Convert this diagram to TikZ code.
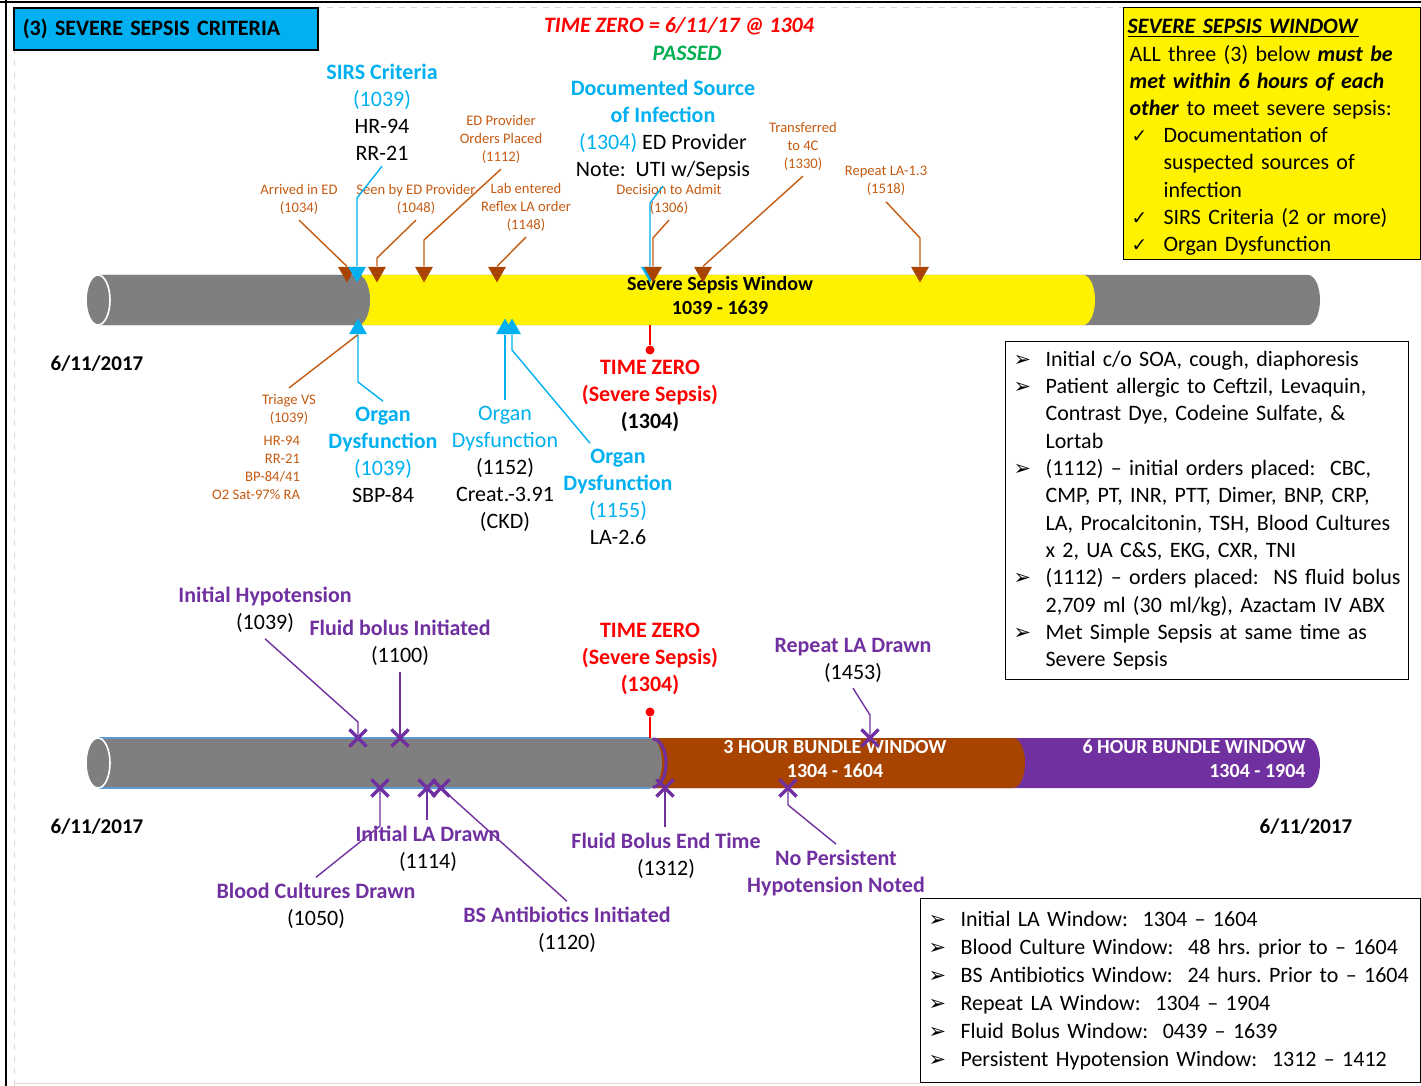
\documentclass[tikz,border=0pt]{standalone}
\usepackage{fontspec}
\setmainfont{Carlito}
\newfontfamily\dingfont{DejaVu Sans}[Scale=0.95]
\newfontfamily\tickfont{DejaVu Sans}[Scale=0.85]
\usetikzlibrary{shapes.geometric,shapes.misc}

\definecolor{sepblue}{HTML}{00B0F0}
\definecolor{sepbrown}{HTML}{A94300}
\definecolor{seporange}{HTML}{C55A11}
\definecolor{seppurple}{HTML}{7030A0}
\definecolor{sepgray}{HTML}{7F7F7F}
\definecolor{sepgreen}{HTML}{00B050}
\definecolor{sepedge}{HTML}{5B9BD5}

\newcommand{\bulmark}{\makebox[18pt][l]{\hspace{2pt}\dingfont ➢}}
\newcommand{\chkmark}{\makebox[18pt][l]{\hspace{2pt}\tickfont ✓}}
\newcommand{\bulgap}{\hspace*{18pt}}

\tikzset{
  txt/.style={font=\fontsize{11}{13.5}\selectfont, align=center, inner sep=0pt, outer sep=3pt},
  note/.style={font=\fontsize{7.3}{9}\selectfont, text=seporange, align=center, inner sep=0pt, outer sep=3pt},
  datelbl/.style={font=\fontsize{10.5}{12}\selectfont\bfseries, inner sep=0pt},
  tubelbl/.style={font=\fontsize{10}{12}\selectfont\bfseries, align=center, inner sep=0pt},
  infobox/.style={draw=black, line width=0.6pt, font=\fontsize{11}{13.6}\selectfont, align=left, anchor=north west, inner xsep=2pt, inner ysep=2pt},
  downtri/.style={regular polygon, regular polygon sides=3, shape border rotate=180, minimum size=10.4pt, inner sep=0pt, fill=#1},
  uptri/.style={regular polygon, regular polygon sides=3, minimum size=10.4pt, inner sep=0pt, fill=#1},
  xmark/.style={cross out, draw=seppurple, line width=1.6pt, minimum size=7pt, inner sep=0pt},
  tzdot/.style={circle, fill=red, minimum size=4.5pt, inner sep=0pt},
  oline/.style={seporange, line width=0.7pt},
  bline/.style={sepblue, line width=0.7pt},
  pline/.style={seppurple, line width=0.7pt}
}

\begin{document}
\frenchspacing
\begin{tikzpicture}[x=0.5pt,y=-0.5pt]
\useasboundingbox (0,0) rectangle (1421,1086);

% Frame
\draw[line width=1.2pt] (6,0) -- (6,1086);
\draw[line width=1.2pt] (0,2) -- (1421,2);
\draw[black!15, dashed] (14,1086) -- (14,7) -- (1421,7);
\draw[black!15] (14,1083) -- (920,1083);

% Upper tube
\fill[sepgray] (98,275) -- (1308,275) arc[start angle=-90, end angle=90, x radius=12, y radius=25] -- (98,325) -- cycle;
\fill[yellow] (362,275) -- (1083,275) arc[start angle=-90, end angle=90, x radius=12, y radius=25] -- (362,325) -- cycle;
\fill[sepgray] (98,275) -- (358,275) arc[start angle=-90, end angle=90, x radius=12, y radius=25] -- (98,325) -- cycle;
\filldraw[fill=sepgray, draw=white, line width=0.8pt] (98,300) ellipse [x radius=12, y radius=25];

% Lower tube
\fill[seppurple] (98,738) -- (1308,738) arc[start angle=-90, end angle=90, x radius=12, y radius=25] -- (98,788) -- cycle;
\fill[sepbrown] (655,738) -- (1013,738) arc[start angle=-90, end angle=90, x radius=12, y radius=25] -- (655,788) -- cycle;
\fill[sepgray] (98,738) -- (650,738) arc[start angle=-90, end angle=90, x radius=12, y radius=25] -- (98,788) -- cycle;
\draw[sepedge, line width=0.6pt] (98,738) -- (650,738) (98,788) -- (650,788);
\draw[seppurple, line width=1.6pt] (653,739) arc[start angle=-90, end angle=90, x radius=13, y radius=24];
\filldraw[fill=sepgray, draw=white, line width=0.8pt] (98,763) ellipse [x radius=12, y radius=25];

% Tube labels
\node[tubelbl] (sswin) at (720,296) {Severe Sepsis Window\\1039 - 1639};
\node[tubelbl, text=white] (win3) at (835,759) {3 HOUR BUNDLE WINDOW\\1304 - 1604};
\node[tubelbl, text=white, align=right, anchor=east] (win6) at (1306,759) {6 HOUR BUNDLE WINDOW\\1304 - 1904};

% Headings
\node[draw=black, line width=0.8pt, fill=sepblue, anchor=north west, minimum width=151.5pt, minimum height=21pt,
  text width=143pt, inner xsep=4.5pt, align=left, font=\fontsize{11}{13.5}\selectfont\bfseries] (title) at (13,7) {(3) SEVERE SEPSIS CRITERIA};
\node[txt, font=\fontsize{11}{13.5}\selectfont\bfseries\itshape, text=red] (tzero) at (679,26) {TIME ZERO = 6/11/17 @ 1304};
\node[txt, font=\fontsize{11}{13.5}\selectfont\bfseries\itshape, text=sepgreen] (passed) at (687,53) {PASSED};

% Dates
\node[datelbl] (date1) at (97,364) {6/11/2017};
\node[datelbl] (date2) at (97,827) {6/11/2017};
\node[datelbl] (date3) at (1306,827) {6/11/2017};

% Labels above the upper tube
\node[txt] (sirs) at (382,112) {\textbf{\textcolor{sepblue}{SIRS Criteria}}\\\textcolor{sepblue}{(1039)}\\HR-94\\RR-21};
\node[txt] (docsrc) at (663,130) {\textbf{\textcolor{sepblue}{Documented Source}}\\\textbf{\textcolor{sepblue}{of Infection}}\\\textcolor{sepblue}{(1304)} ED Provider\\Note:\ \ UTI w/Sepsis};
\node[note] (arrived) at (299,199) {Arrived in ED\\(1034)};
\node[note] (seen) at (416,199) {Seen by ED Provider\\(1048)};
\node[note] (orders) at (501,139) {ED Provider\\Orders Placed\\(1112)};
\node[note] (labent) at (526,207) {Lab entered\\Reflex LA order\\(1148)};
\node[note] (admit) at (669,199) {Decision to Admit\\(1306)};
\node[note] (xfer) at (803,146) {Transferred\\to 4C\\(1330)};
\node[note] (repla) at (886,181) {Repeat LA-1.3\\(1518)};

% Labels below the upper tube
\node[note] (triage) at (289,409) {Triage VS\\(1039)};
\node[note, align=right, anchor=east] (vitals) at (306,468) {HR-94\\RR-21\\BP-84/41\\O2 Sat-97\% RA};
\node[txt] (od1) at (383,455) {\textbf{\textcolor{sepblue}{Organ}}\\\textbf{\textcolor{sepblue}{Dysfunction}}\\\textcolor{sepblue}{(1039)}\\SBP-84};
\node[txt] (od2) at (505,469) {\textcolor{sepblue}{Organ}\\\textcolor{sepblue}{Dysfunction}\\(1152)\\Creat.-3.91\\(CKD)};
\node[txt] (od3) at (618,497) {\textbf{\textcolor{sepblue}{Organ}}\\\textbf{\textcolor{sepblue}{Dysfunction}}\\\textcolor{sepblue}{(1155)}\\LA-2.6};
\node[txt, font=\fontsize{11}{13.5}\selectfont\bfseries] (tz1) at (650,396) {\textcolor{red}{TIME ZERO}\\\textcolor{red}{(Severe Sepsis)}\\(1304)};

% Labels round the lower tube
\node[txt] (hypo) at (265,610) {\textbf{\textcolor{seppurple}{Initial Hypotension}}\\(1039)};
\node[txt] (fbi) at (400,643) {\textbf{\textcolor{seppurple}{Fluid bolus Initiated}}\\(1100)};
\node[txt, font=\fontsize{11}{13.5}\selectfont\bfseries, text=red] (tz2) at (650,659) {TIME ZERO\\(Severe Sepsis)\\(1304)};
\node[txt] (rla) at (853,660) {\textbf{\textcolor{seppurple}{Repeat LA Drawn}}\\(1453)};
\node[txt] (ila) at (428,849) {\textbf{\textcolor{seppurple}{Initial LA Drawn}}\\(1114)};
\node[txt] (bcd) at (316,906) {\textbf{\textcolor{seppurple}{Blood Cultures Drawn}}\\(1050)};
\node[txt] (bsa) at (567,930) {\textbf{\textcolor{seppurple}{BS Antibiotics Initiated}}\\(1120)};
\node[txt] (fbe) at (666,856) {\textbf{\textcolor{seppurple}{Fluid Bolus End Time}}\\(1312)};
\node[txt, font=\fontsize{11}{13.5}\selectfont\bfseries, text=seppurple] (nph) at (836,873) {No Persistent\\Hypotension Noted};

% Boxes
\node[infobox, fill=yellow, minimum width=148.5pt, minimum height=126pt, text width=144.5pt] (window) at (1123,7) {%
\rule{0pt}{11pt}\underline{\textbf{\textit{SEVERE SEPSIS WINDOW}}}\\
\hspace*{1pt}ALL three (3) below \textbf{\textit{must be}}\\
\hspace*{1pt}\textbf{\textit{met within 6 hours of each}}\\
\hspace*{1pt}\textbf{\textit{other}} to meet severe sepsis:\\
\chkmark Documentation of\\
\bulgap suspected sources of\\
\bulgap infection\\
\chkmark SIRS Criteria (2 or more)\\
\chkmark Organ Dysfunction};
\node[infobox, font=\fontsize{11}{13.65}\selectfont, minimum width=201.5pt, minimum height=169pt, text width=197.5pt] (facts) at (1005,341) {%
\bulmark Initial c/o SOA, cough, diaphoresis\\
\bulmark Patient allergic to Ceftzil, Levaquin,\\
\bulgap Contrast Dye, Codeine Sulfate, \&\\
\bulgap Lortab\\
\bulmark (1112) -- initial orders placed:\ \ CBC,\\
\bulgap CMP, PT, INR, PTT, Dimer, BNP, CRP,\\
\bulgap LA, Procalcitonin, TSH, Blood Cultures\\
\bulgap x 2, UA C\&S, EKG, CXR, TNI\\
\bulmark (1112) -- orders placed:\ \ NS fluid bolus\\
\bulgap 2,709 ml (30 ml/kg), Azactam IV ABX\\
\bulmark Met Simple Sepsis at same time as\\
\bulgap Severe Sepsis};
\node[infobox, font=\fontsize{11}{14}\selectfont, minimum width=250pt, minimum height=92pt, text width=246pt] (windows) at (920,898) {%
\bulmark Initial LA Window:\ \ 1304 -- 1604\\
\bulmark Blood Culture Window:\ \ 48 hrs. prior to -- 1604\\
\bulmark BS Antibiotics Window:\ \ 24 hurs. Prior to -- 1604\\
\bulmark Repeat LA Window:\ \ 1304 -- 1904\\
\bulmark Fluid Bolus Window:\ \ 0439 -- 1639\\
\bulmark Persistent Hypotension Window:\ \ 1312 -- 1412};

% Markers on the upper tube
\node[downtri=sepbrown] (tArr) at (347,272) {};
\node[downtri=sepblue] (tSirs) at (357,272) {};
\node[downtri=sepbrown] (tSeen) at (377,272) {};
\node[downtri=sepbrown] (tOrd) at (424,272) {};
\node[downtri=sepbrown] (tLab) at (497,272) {};
\node[downtri=sepblue] (tSrc) at (650,272) {};
\node[downtri=sepbrown] (tAdm) at (653,272) {};
\node[downtri=sepbrown] (tXfer) at (703,272) {};
\node[downtri=sepbrown] (tRep) at (920,272) {};
\node[uptri=sepblue] (tOd1) at (358,329) {};
\node[uptri=sepblue] (tOd2) at (505,329) {};
\node[uptri=sepblue] (tOd3) at (512,329) {};

% Connectors, upper tube
\draw[bline] (sirs.south) -- (357,198) -- (tSirs.north);
\draw[oline] (arrived.south) -- (tArr.north);
\draw[oline] (seen.south) -- (377,258) -- (tSeen.north);
\draw[oline] (orders.south) -- (424,240) -- (tOrd.north);
\draw[oline] (labent.south) -- (tLab.north);
\draw[bline] (docsrc.south) -- (650,203) -- (tSrc.north);
\draw[oline] (admit.south) -- (653,238) -- (tAdm.north);
\draw[oline] (xfer.south) -- (tXfer.north);
\draw[oline] (repla.south) -- (920,238) -- (tRep.north);
\draw[oline] (triage.north) -- (tOd1.south);
\draw[bline] (od1.north) -- (358,382) -- (tOd1.south);
\draw[bline] (od2.north) -- (tOd2.south);
\draw[bline] ([xshift=-14pt]od3.north) -- (512,350) -- (tOd3.south);

% Time zero pins
\node[tzdot] (dot1) at (650,350) {};
\coordinate (cut1) at (650,325);
\draw[red, line width=0.6pt] (dot1) -- (cut1);
\node[tzdot] (dot2) at (650,712) {};
\coordinate (cut2) at (650,738);
\draw[red, line width=0.6pt] (dot2) -- (cut2);

% Markers on the lower tube
\node[xmark] (xHypo) at (358,738) {};
\node[xmark] (xFbi) at (400,738) {};
\node[xmark] (xRla) at (870,738) {};
\node[xmark] (xBcd) at (380,788) {};
\node[xmark] (xIla) at (427,788) {};
\node[xmark] (xBsa) at (441,788) {};
\node[xmark] (xFbe) at (665,788) {};
\node[xmark] (xNph) at (788,788) {};

% Connectors, lower tube
\draw[pline] (hypo.south) -- (358,722) -- (xHypo.center);
\draw[pline] (fbi.south) -- (xFbi.center);
\draw[pline] (rla.south) -- (870,715) -- (xRla.center);
\draw[pline] (xIla.center) -- (xIla.center |- ila.north);
\draw[pline] (xBcd.center) -- (380,826) -- (bcd.north);
\draw[pline] (xBsa.center) -- (bsa.north);
\draw[pline] (xFbe.center) -- (xFbe.center |- fbe.north);
\draw[pline] (xNph.center) -- (788,805) -- (nph.north);
\end{tikzpicture}
\end{document}
